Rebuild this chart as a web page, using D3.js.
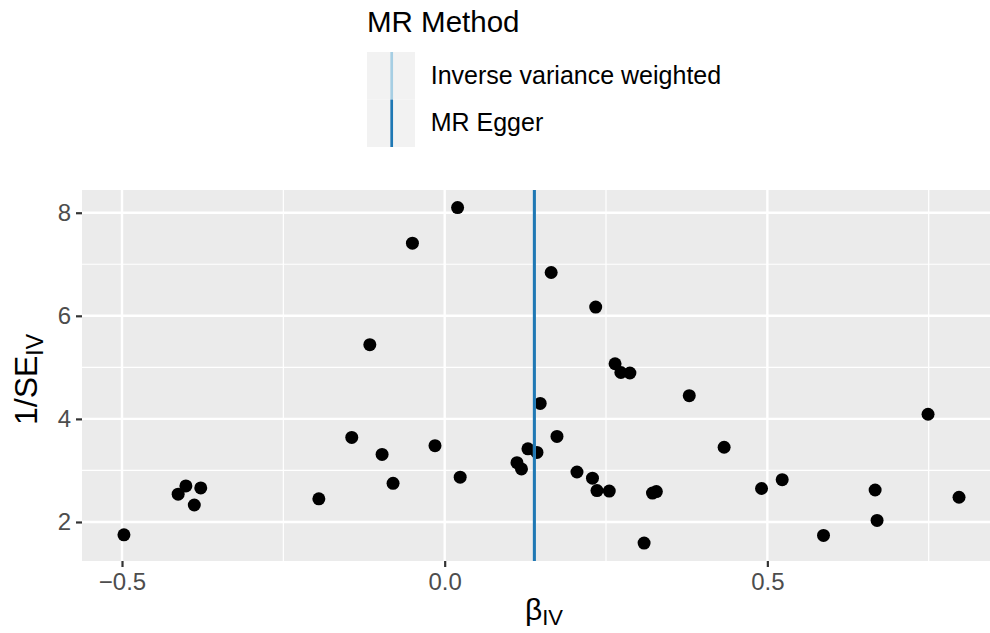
<!DOCTYPE html>
<html>
<head>
<meta charset="utf-8">
<script src="https://cdn.jsdelivr.net/npm/d3@7"></script>
<style>
  body { margin: 0; background: #fff; }
  text { font-family: "Liberation Sans", Arial, sans-serif; }
</style>
</head>
<body>
<div id="chart"></div>
<script>
// beta_IV and 1/SE_IV per SNP
const betaIV = [0.020, -0.050, -0.116, 0.165, 0.234, 0.264, 0.273, 0.287, -0.497, -0.413,
  -0.401, -0.378, -0.388, -0.195, -0.144, -0.097, -0.080, -0.015, 0.024, 0.112,
  0.119, 0.129, 0.148, 0.174, 0.143, 0.205, 0.229, 0.236, 0.255, 0.309,
  0.322, 0.328, 0.379, 0.433, 0.491, 0.523, 0.587, 0.667, 0.670, 0.749, 0.797];
const invSE = [8.10, 7.41, 5.44, 6.84, 6.17, 5.07, 4.90, 4.89, 1.75, 2.54,
  2.70, 2.66, 2.33, 2.45, 3.64, 3.31, 2.75, 3.48, 2.87, 3.15,
  3.03, 3.42, 4.30, 3.66, 3.35, 2.97, 2.85, 2.61, 2.60, 1.59,
  2.56, 2.59, 4.45, 3.45, 2.65, 2.82, 1.74, 2.62, 2.03, 4.09, 2.48];

// MR estimates (vertical lines)
const methods = ['Inverse variance weighted', 'MR Egger'];
const methodColors = ['#a6cee3', '#1f78b4'];
const estimates = [0.139, 0.139];

const xTicks = [-0.5, 0.0, 0.5];
const xMinor = [-0.25, 0.25, 0.75];
const yTicks = [2, 4, 6, 8];
const yMinor = [3, 5, 7];

const width = 990;
const height = 633;
const panel = { left: 82, top: 190, right: 990, bottom: 561 };

const svg = d3.select('#chart')
  .append('svg')
  .attr('width', width)
  .attr('height', height);

const x = d3.scaleLinear()
  .domain([-0.562, 0.845])
  .range([panel.left, panel.right]);
const y = d3.scaleLinear()
  .domain([1.243, 8.441])
  .range([panel.bottom, panel.top]);

// panel background
svg.append('rect')
  .attr('x', panel.left)
  .attr('y', panel.top)
  .attr('width', panel.right - panel.left)
  .attr('height', panel.bottom - panel.top)
  .attr('fill', '#ebebeb');

const grid = svg.append('g');
grid.selectAll('.ymin').data(yMinor).enter().append('line')
  .attr('x1', panel.left).attr('x2', panel.right)
  .attr('y1', d => y(d)).attr('y2', d => y(d))
  .attr('stroke', '#fff').attr('stroke-width', 1.2);
grid.selectAll('.xmin').data(xMinor).enter().append('line')
  .attr('y1', panel.top).attr('y2', panel.bottom)
  .attr('x1', d => x(d)).attr('x2', d => x(d))
  .attr('stroke', '#fff').attr('stroke-width', 1.2);
grid.selectAll('.ymaj').data(yTicks).enter().append('line')
  .attr('x1', panel.left).attr('x2', panel.right)
  .attr('y1', d => y(d)).attr('y2', d => y(d))
  .attr('stroke', '#fff').attr('stroke-width', 2.4);
grid.selectAll('.xmaj').data(xTicks).enter().append('line')
  .attr('y1', panel.top).attr('y2', panel.bottom)
  .attr('x1', d => x(d)).attr('x2', d => x(d))
  .attr('stroke', '#fff').attr('stroke-width', 2.4);

// points
svg.append('g')
  .selectAll('circle')
  .data(betaIV.map((b, i) => [b, invSE[i]]))
  .enter()
  .append('circle')
  .attr('cx', d => x(d[0]))
  .attr('cy', d => y(d[1]))
  .attr('r', 6.5)
  .attr('fill', '#000');

// method lines
svg.append('g')
  .selectAll('line')
  .data(estimates)
  .enter()
  .append('line')
  .attr('x1', d => x(d)).attr('x2', d => x(d))
  .attr('y1', panel.top).attr('y2', panel.bottom)
  .attr('stroke', (d, i) => methodColors[i])
  .attr('stroke-width', 3);

// axes
const xAxis = svg.append('g')
  .attr('transform', `translate(0,${panel.bottom})`)
  .call(d3.axisBottom(x).tickValues(xTicks).tickFormat(d3.format('.1f')).tickSize(6).tickPadding(6));
const yAxis = svg.append('g')
  .attr('transform', `translate(${panel.left},0)`)
  .call(d3.axisLeft(y).tickValues(yTicks).tickFormat(d3.format('d')).tickSize(6).tickPadding(5));

[xAxis, yAxis].forEach(g => {
  g.select('.domain').remove();
  g.selectAll('.tick line').attr('stroke', '#333').attr('stroke-width', 2.2);
  g.selectAll('.tick text')
    .attr('fill', '#4d4d4d')
    .style('font-size', '24px')
    .style('font-family', '"Liberation Sans", Arial, sans-serif');
});
xAxis.selectAll('.tick text').text(d => d3.format('.1f')(d).replace('-', '\u2212'));

// axis titles
const xTitle = svg.append('text')
  .attr('x', (panel.left + panel.right) / 2 + 8)
  .attr('y', 620)
  .attr('text-anchor', 'middle')
  .attr('fill', '#000')
  .style('font-size', '30px');
xTitle.append('tspan').text('\u03b2');
xTitle.append('tspan').attr('dy', 5).style('font-size', '22px').text('IV');

const yTitle = svg.append('text')
  .attr('transform', `translate(37,${(panel.top + panel.bottom) / 2 + 4}) rotate(-90)`)
  .attr('text-anchor', 'middle')
  .attr('fill', '#000')
  .style('font-size', '32px');
yTitle.append('tspan').text('1/SE');
yTitle.append('tspan').attr('dy', 6).style('font-size', '23px').text('IV');

// legend
const legend = svg.append('g');
legend.append('text')
  .attr('x', 367)
  .attr('y', 32)
  .attr('fill', '#000')
  .style('font-size', '29.5px')
  .text('MR Method');

const keyH = 47.5;
const keys = legend.selectAll('.key')
  .data(methods)
  .enter()
  .append('g')
  .attr('transform', (d, i) => `translate(367,${52 + i * keyH})`);
keys.append('rect')
  .attr('width', 48)
  .attr('height', keyH)
  .attr('fill', '#f2f2f2');
keys.append('line')
  .attr('x1', 24.7).attr('x2', 24.7)
  .attr('y1', 0).attr('y2', keyH)
  .attr('stroke', (d, i) => methodColors[i])
  .attr('stroke-width', 2.7);
keys.append('text')
  .attr('x', 63.7)
  .attr('y', 31.5)
  .attr('fill', '#000')
  .style('font-size', '25px')
  .text(d => d);
</script>
</body>
</html>
